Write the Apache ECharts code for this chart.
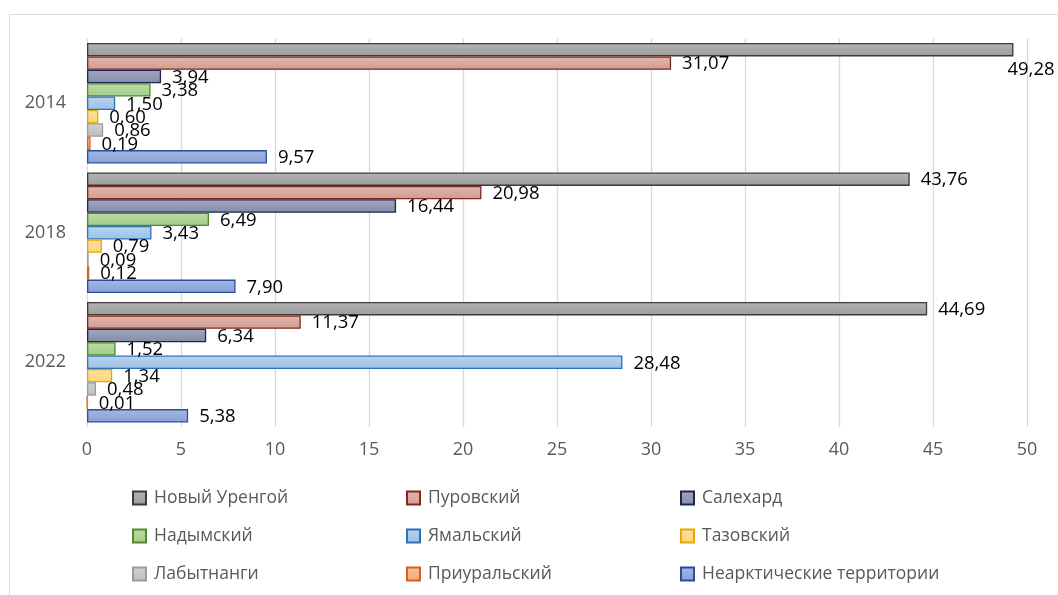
<!DOCTYPE html>
<html>
<head>
<meta charset="utf-8">
<script src="https://cdn.jsdelivr.net/npm/echarts@6/dist/echarts.min.js"></script>
<style>
  html, body { margin: 0; padding: 0; background: #fff; }
  #chart { width: 1058px; height: 595px; }
</style>
</head>
<body>
<div id="chart"></div>
<script>
// Categories (years) and region names
const years = ['2014', '2018', '2022'];
const regions = [
  'Новый Уренгой', 'Пуровский', 'Салехард',
  'Надымский', 'Ямальский', 'Тазовский',
  'Лабытнанги', 'Приуральский', 'Неарктические территории'
];

// Values per region, one entry per year (2014, 2018, 2022)
const novyUrengoy = [49.28, 43.76, 44.69];
const purovsky    = [31.07, 20.98, 11.37];
const salekhard   = [3.94, 16.44, 6.34];
const nadymsky    = [3.38, 6.49, 1.52];
const yamalsky    = [1.50, 3.43, 28.48];
const tazovsky    = [0.60, 0.79, 1.34];
const labytnangi  = [0.86, 0.09, 0.48];
const priuralsky  = [0.19, 0.12, 0.01];
const nonArctic   = [9.57, 7.90, 5.38];

const valueTicks = [0, 5, 10, 15, 20, 25, 30, 35, 40, 45, 50];

const seriesValues = [novyUrengoy, purovsky, salekhard, nadymsky, yamalsky,
                      tazovsky, labytnangi, priuralsky, nonArctic];

// Fill (top, bottom) and outline colour for each region
const palette = [
  { top: '#b4b4b4', bottom: '#9c9c9c', line: '#3b3b3b' },
  { top: '#e3b7ad', bottom: '#cf9c90', line: '#7f2a1d' },
  { top: '#a1a7c0', bottom: '#858ca8', line: '#1d2550' },
  { top: '#bcdca6', bottom: '#a3cc88', line: '#4f8a2e' },
  { top: '#b8d4f1', bottom: '#9cc0e6', line: '#2e72b4' },
  { top: '#ffe29a', bottom: '#ffd47a', line: '#e2a90a' },
  { top: '#d2d2d2', bottom: '#bdbdbd', line: '#9a9a9a' },
  { top: '#f8c09c', bottom: '#f2a877', line: '#d4621b' },
  { top: '#a3b8e3', bottom: '#889fd6', line: '#284f9a' }
];

const fmt = v => v.toFixed(2).replace('.', ',');
const FONT = '"Open Sans", "Noto Sans", sans-serif';

const series = regions.map((name, i) => ({
  name: name,
  type: 'bar',
  barGap: '0%',
  barCategoryGap: '7%',
  itemStyle: {
    color: new echarts.graphic.LinearGradient(0, 0, 0, 1, [
      { offset: 0, color: palette[i].top },
      { offset: 1, color: palette[i].bottom }
    ]),
    borderColor: palette[i].line,
    borderWidth: 1.3
  },
  label: {
    show: true,
    position: 'right',
    distance: 11,
    color: '#000',
    fontFamily: FONT,
    fontSize: 18.5,
    offset: [0, 1],
    formatter: p => fmt(p.value)
  },
  data: seriesValues[i].map((v, j) => {
    // the label at the axis end is pushed below its bar to stay inside the chart
    if (v > 49) {
      return { value: v, label: { distance: 0, offset: [-6, 20] } };
    }
    return v;
  })
}));

const legendText = { color: '#595959', fontFamily: FONT, fontSize: 17.5, padding: [0, 0, 0, 3] };
const legendBase = {
  orient: 'vertical',
  top: 484,
  itemWidth: 13,
  itemHeight: 13,
  itemGap: 20,
  textStyle: legendText,
  icon: 'rect'
};

const chart = echarts.init(document.getElementById('chart'));
chart.setOption({
  animation: false,
  backgroundColor: '#fff',
  graphic: [{
    type: 'rect',
    shape: { x: 9.5, y: 14.5, width: 1060, height: 600 },
    style: { fill: 'none', stroke: '#d9d9d9', lineWidth: 1 },
    z: -1
  }],
  grid: { left: 87, right: 31, top: 38.5, bottom: 168, containLabel: false },
  xAxis: {
    type: 'value',
    min: valueTicks[0],
    max: valueTicks[valueTicks.length - 1],
    interval: valueTicks[1] - valueTicks[0],
    axisLine: { show: false },
    axisTick: { show: false },
    splitLine: { show: true, lineStyle: { color: '#d9d9d9', width: 1.3 } },
    axisLabel: { color: '#595959', fontFamily: FONT, fontSize: 18, margin: 14 }
  },
  yAxis: {
    type: 'category',
    data: years,
    inverse: true,
    axisLine: { show: false },
    axisTick: { show: false },
    axisLabel: { color: '#595959', fontFamily: FONT, fontSize: 18, margin: 21 }
  },
  legend: [
    Object.assign({}, legendBase, { left: 127, data: [regions[0], regions[3], regions[6]] }),
    Object.assign({}, legendBase, { left: 401, data: [regions[1], regions[4], regions[7]] }),
    Object.assign({}, legendBase, { left: 675, data: [regions[2], regions[5], regions[8]] })
  ],
  series: series
});
</script>
</body>
</html>
